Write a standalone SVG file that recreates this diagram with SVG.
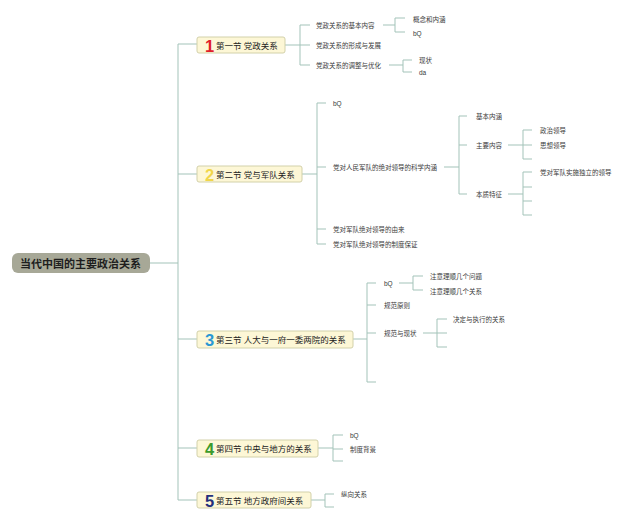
<svg xmlns="http://www.w3.org/2000/svg" width="640" height="521" viewBox="0 0 640 521">
<style>
text{font-family:"Liberation Sans","Noto Sans CJK SC",sans-serif;fill:#333;dominant-baseline:central}
.c{fill:none;stroke:#a3c3b9;stroke-width:1}
.n{fill:#fdf7d6;stroke:#d2d1aa;stroke-width:1}
.lab{font-size:8.5px;fill:#222}
.num{font-size:16.5px;font-weight:bold}
.s{font-size:6.5px;fill:#3a3a3a}
.root{font-size:11px;font-weight:bold;fill:#1e1e1e}
</style>
<rect width="640" height="521" fill="#fff"/>
<g id="connectors">
<path class="c" d="M150 263H178M178 44V500M178 44H197M178 174H197M178 339H197M178 448H197M178 500H197"/>
<path class="c" d="M285 45H300M300 25V65M300 25H310M300 45H310M300 65H310"/>
<path class="c" d="M383 25H395M395 18V32M395 18H405M395 32H405"/>
<path class="c" d="M389 65H403M403 60V72M403 60H412M403 72H412"/>
<path class="c" d="M302 174H317M317 103V244M317 103H326M317 167H326M317 229H326M317 244H326"/>
<path class="c" d="M444 167H459M459 116V194M459 116H467M459 145H467M459 194H467"/>
<path class="c" d="M508 145H523M523 130V159M523 130H532M523 145H532M523 159H532"/>
<path class="c" d="M508 194H523M523 172V215M523 172H532M523 187H532M523 201H532M523 215H532"/>
<path class="c" d="M353 339H367M367 283V382M367 283H376M367 305H376M367 333H376M367 382H376"/>
<path class="c" d="M399 283H413M413 276V290M413 276H423M413 290H423"/>
<path class="c" d="M423 333H437M437 319V347M437 319H447M437 333H447M437 347H447"/>
<path class="c" d="M318 448H333M333 435V461M333 435H343M333 449H343M333 461H343"/>
<path class="c" d="M311 500H325M325 494V507M325 494H334M325 507H334"/>
</g>
<g id="root">
<rect x="12" y="253" width="138" height="20" rx="6" fill="#a7a897"/>
<text class="root" x="20" y="263.5">当代中国的主要政治关系</text>
</g>
<g id="node1">
<rect class="n" x="197" y="37" width="88" height="16" rx="2"/>
<text class="num" x="205" y="45.5" style="fill:#e0202a">1</text>
<text class="lab" x="216" y="45.5">第一节 党政关系</text>
</g>
<g id="n1a"><text class="s" x="316" y="25">党政关系的基本内容</text></g>
<g id="n1b"><text class="s" x="316" y="45">党政关系的形成与发展</text></g>
<g id="n1c"><text class="s" x="316" y="65">党政关系的调整与优化</text></g>
<g id="n1a1"><text class="s" x="413" y="19">概念和内涵</text></g>
<g id="n1a2"><text class="s" x="413" y="33">bQ</text></g>
<g id="n1c1"><text class="s" x="419" y="60">现状</text></g>
<g id="n1c2"><text class="s" x="419" y="72">da</text></g>
<g id="node2">
<rect class="n" x="197" y="166" width="105" height="16" rx="2"/>
<text class="num" x="205" y="174.5" style="fill:#f1d64a">2</text>
<text class="lab" x="216" y="174.5">第二节 党与军队关系</text>
</g>
<g id="n2a"><text class="s" x="333" y="103">bQ</text></g>
<g id="n2b"><text class="s" x="333" y="167">党对人民军队的绝对领导的科学内涵</text></g>
<g id="n2c"><text class="s" x="333" y="229">党对军队绝对领导的由来</text></g>
<g id="n2d"><text class="s" x="333" y="244">党对军队绝对领导的制度保证</text></g>
<g id="n2b1"><text class="s" x="476" y="116">基本内涵</text></g>
<g id="n2b2"><text class="s" x="476" y="145">主要内容</text></g>
<g id="n2b3"><text class="s" x="476" y="194">本质特征</text></g>
<g id="n2b2a"><text class="s" x="540" y="130">政治领导</text></g>
<g id="n2b2b"><text class="s" x="540" y="145">思想领导</text></g>
<g id="n2b3a"><text class="s" x="540" y="172">党对军队实施独立的领导</text></g>
<g id="node3">
<rect class="n" x="197" y="331" width="156" height="17" rx="2"/>
<text class="num" x="205" y="340" style="fill:#2b98d4">3</text>
<text class="lab" x="216" y="340">第三节 人大与一府一委两院的关系</text>
</g>
<g id="n3a"><text class="s" x="384" y="283">bQ</text></g>
<g id="n3b"><text class="s" x="384" y="305">规范原则</text></g>
<g id="n3c"><text class="s" x="384" y="333">规范与现状</text></g>
<g id="n3a1"><text class="s" x="430" y="276">注意理顺几个问题</text></g>
<g id="n3a2"><text class="s" x="430" y="291">注意理顺几个关系</text></g>
<g id="n3c1"><text class="s" x="453" y="319">决定与执行的关系</text></g>
<g id="node4">
<rect class="n" x="197" y="440" width="121" height="17" rx="2"/>
<text class="num" x="205" y="449" style="fill:#3b9b2c">4</text>
<text class="lab" x="216" y="449">第四节 中央与地方的关系</text>
</g>
<g id="n4a"><text class="s" x="350" y="435">bQ</text></g>
<g id="n4b"><text class="s" x="350" y="449">制度背景</text></g>
<g id="node5">
<rect class="n" x="197" y="492" width="114" height="16" rx="2"/>
<text class="num" x="205" y="500.5" style="fill:#24307c">5</text>
<text class="lab" x="216" y="500.5">第五节 地方政府间关系</text>
</g>
<g id="n5a"><text class="s" x="341" y="494">纵向关系</text></g>
</svg>
